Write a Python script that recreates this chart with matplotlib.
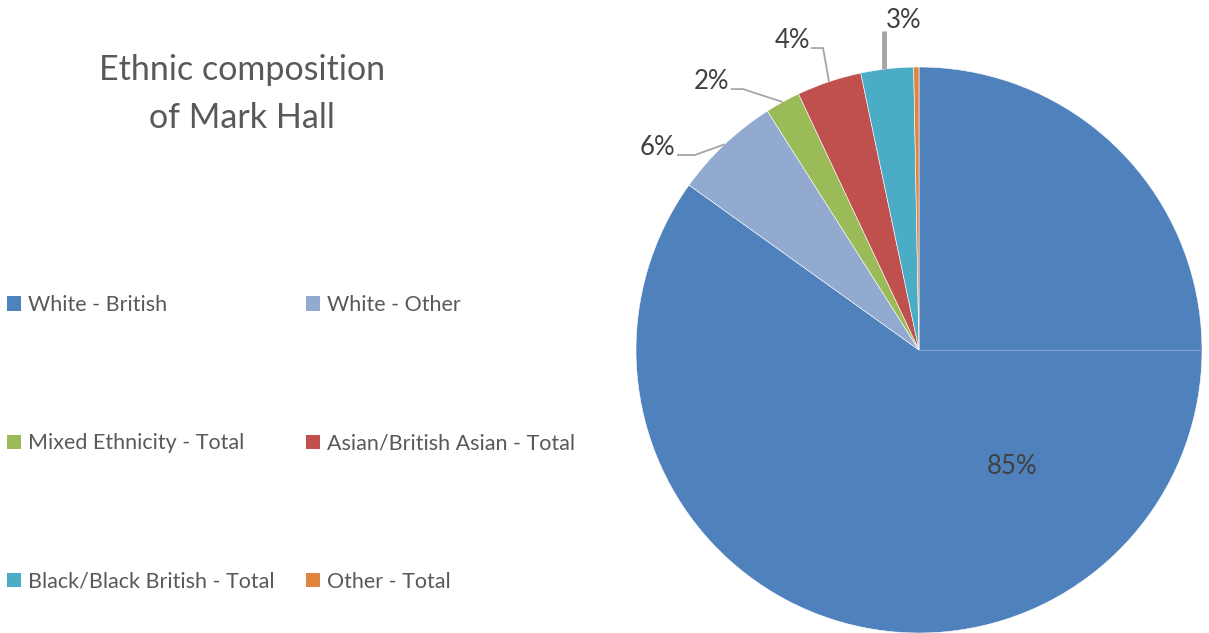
import numpy as np
import matplotlib
matplotlib.use("Agg")
import matplotlib.pyplot as plt
from matplotlib.patches import Patch

# ---- data ----
categories = ["White - British", "White - Other", "Mixed Ethnicity - Total",
              "Asian/British Asian - Total", "Black/Black British - Total", "Other - Total"]
values = [84.9, 6.1, 2.0, 3.7, 3.0, 0.3]
pct_labels = ["85%", "6%", "2%", "4%", "3%", ""]
colors = ["#4F81BD", "#92AAD0", "#9BBB59", "#C0504D", "#4BACC6", "#E0843E"]
title = "Ethnic composition\nof Mark Hall"

plt.rcParams['font.family'] = ['Lato', 'DejaVu Sans']

W, H = 1209, 633
fig = plt.figure(figsize=(W / 100, H / 100), dpi=100)

cx, cy, r = 919, 350, 283
ax = fig.add_axes([(cx - r) / W, (H - cy - r) / H, 2 * r / W, 2 * r / H])
wedges, _ = ax.pie(values, colors=colors, startangle=90, counterclock=False,
                   radius=1.0, wedgeprops=dict(linewidth=0.4, edgecolor="white"))
ax.set_xlim(-1, 1)
ax.set_ylim(-1, 1)
ax.set_aspect("equal")
ax.axis("off")

# faint radius line at 3 o'clock
ax.plot([0, 1], [0, 0], color="#7E9FCF", lw=0.9, zorder=5)

lab_col = "#404040"
ax.text(0.33, -0.41, pct_labels[0], ha="center", va="center", fontsize=18.5, color=lab_col)

mids = []
cum = 0
for v in values:
    a0 = 90 - cum * 3.6
    a1 = 90 - (cum + v) * 3.6
    mids.append(np.deg2rad((a0 + a1) / 2))
    cum += v

outside = {
    1: dict(elbow=(-0.792, 0.689), end=(-0.855, 0.689), text=(-0.86, 0.714), ha="right"),
    2: dict(elbow=(-0.622, 0.922), end=(-0.665, 0.922), text=(-0.67, 0.95), ha="right"),
    3: dict(elbow=(-0.339, 1.067), end=(-0.382, 1.067), text=(-0.385, 1.095), ha="right"),
}
for i, o in outside.items():
    px = np.cos(mids[i]); py = np.sin(mids[i])
    ax.plot([px, o["elbow"][0], o["end"][0]], [py, o["elbow"][1], o["end"][1]],
            color="#A6A6A6", lw=1.3, clip_on=False, solid_capstyle="butt")
    ax.text(o["text"][0], o["text"][1], pct_labels[i], ha=o["ha"], va="center",
            fontsize=18.5, color=lab_col, clip_on=False)

i = 4
ax.plot([-0.124, -0.124], [0.993, 1.127], color="#A6A6A6", lw=3.5, clip_on=False,
        solid_capstyle="butt")
ax.text(-0.053, 1.166, pct_labels[i], ha="center", va="center", fontsize=18.5,
        color=lab_col, clip_on=False)

# title
fig.text(242 / W, 1 - 94 / H, title, ha="center", va="center", fontsize=24.5,
         color="#595959", linespacing=1.65)

# legend (row-major order)
order = [0, 2, 4, 1, 3, 5]
handles = [Patch(facecolor=colors[k], edgecolor="none") for k in order]
labels = [categories[k] for k in order]
leg = fig.legend(handles, labels, loc="upper left", ncol=2,
                 bbox_to_anchor=(-8 / W, 1 - 280 / H), frameon=False,
                 fontsize=15.5, labelcolor="#595959", handlelength=0.65,
                 handleheight=0.65, handletextpad=0.3, labelspacing=5.5,
                 columnspacing=1.5, borderpad=0.2)

fig.savefig("out.png", dpi=100)
